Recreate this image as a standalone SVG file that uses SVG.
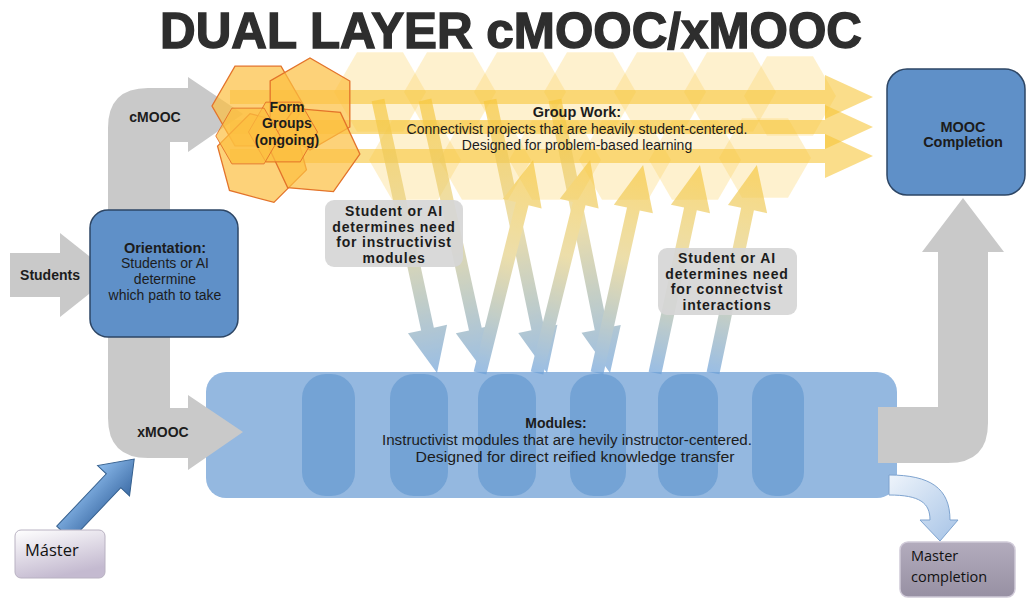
<svg xmlns="http://www.w3.org/2000/svg" width="1027" height="599" viewBox="0 0 1027 599">
<style>
.t{font-family:"Liberation Sans",Arial,sans-serif;fill:#1c1c1c;text-anchor:middle}
.b{font-weight:bold}
.gray{fill:#c9c9c9}
.bluebox{fill:#5f90c8;stroke:#2d4665;stroke-width:1.5}
.lbl{fill:#d6d6d6;fill-opacity:0.92}
.pale{fill:#fbd25c;fill-opacity:0.3}
.fg{fill:#fcbf40;fill-opacity:0.7;stroke:#e3732a;stroke-width:1.3}
.yarr{fill:#f7c435;fill-opacity:0.58}
.pill{fill:#6c9dd2;fill-opacity:0.8}
.cal{font-family:"Open Sans","Liberation Sans",sans-serif;fill:#111}
</style>
<defs>
<polygon id="hx" points="46,0 23,39.8 -23,39.8 -46,0 -23,-39.8 23,-39.8"/>
<linearGradient id="gd" x1="0" y1="0" x2="1" y2="0">
<stop offset="0" stop-color="#f8c83c"/><stop offset="0.45" stop-color="#e4cf83"/><stop offset="1" stop-color="#6a9fd8"/>
</linearGradient>
<linearGradient id="gu" x1="0" y1="0" x2="1" y2="0">
<stop offset="0" stop-color="#6a9fd8"/><stop offset="0.55" stop-color="#e4cf83"/><stop offset="1" stop-color="#f8c83c"/>
</linearGradient>
<linearGradient id="gm" x1="0" y1="0" x2="0" y2="1">
<stop offset="0" stop-color="#8cbbec"/><stop offset="1" stop-color="#3d6ca6"/>
</linearGradient>
<linearGradient id="gc" x1="0" y1="0" x2="1" y2="1">
<stop offset="0" stop-color="#eef4fb"/><stop offset="1" stop-color="#a6c3e6"/>
</linearGradient>
<linearGradient id="gms" x1="0" y1="0" x2="0.4" y2="1">
<stop offset="0" stop-color="#ffffff"/><stop offset="1" stop-color="#c4bad0"/>
</linearGradient>
<linearGradient id="gmc" x1="0" y1="0" x2="0" y2="1">
<stop offset="0" stop-color="#b3acbd"/><stop offset="1" stop-color="#9790a3"/>
</linearGradient>
</defs>

<text id="title" class="t b" x="511" y="48" font-size="50" style="fill:#2e2e2e;stroke:#2e2e2e;stroke-width:1.4" textLength="702" lengthAdjust="spacingAndGlyphs">DUAL LAYER cMOOC/xMOOC</text>

<g id="band">
<use href="#hx" class="pale" transform="translate(380,92)"/>
<use href="#hx" class="pale" transform="translate(450,92)"/>
<use href="#hx" class="pale" transform="translate(520,92)"/>
<use href="#hx" class="pale" transform="translate(590,92)"/>
<use href="#hx" class="pale" transform="translate(660,92)"/>
<use href="#hx" class="pale" transform="translate(730,92)"/>
<use href="#hx" class="pale" transform="translate(790,96)"/>
<use href="#hx" class="pale" transform="translate(415,160)"/>
<use href="#hx" class="pale" transform="translate(485,160)"/>
<use href="#hx" class="pale" transform="translate(555,160)"/>
<use href="#hx" class="pale" transform="translate(625,160)"/>
<use href="#hx" class="pale" transform="translate(695,160)"/>
<use href="#hx" class="pale" transform="translate(765,158)"/>
</g>

<g id="modules">
<rect x="206" y="372" width="691" height="126" rx="20" fill="#94b8e0"/>
<rect class="pill" x="302" y="374" width="53" height="122" rx="24"/>
<rect class="pill" x="390" y="374" width="58" height="122" rx="24"/>
<rect class="pill" x="478" y="374" width="58" height="122" rx="24"/>
<rect class="pill" x="570" y="374" width="56" height="122" rx="24"/>
<rect class="pill" x="658" y="374" width="60" height="122" rx="24"/>
<rect class="pill" x="752" y="374" width="52" height="122" rx="24"/>
<text class="t b" x="556" y="428" font-size="14">Modules:</text>
<text class="t" x="567" y="445" font-size="14" textLength="370" lengthAdjust="spacingAndGlyphs">Instructivist modules that are hevily instructor-centered.</text>
<text class="t" x="575" y="462" font-size="14" textLength="319" lengthAdjust="spacingAndGlyphs">Designed for direct reified knowledge transfer</text>
</g>

<g id="connectors">
<path class="gray" d="M243,114 L188,77 L188,88 L148,88 Q108,88 108,128 L108,418 Q108,458 148,458 L188,458 L188,470 L243,432 L188,395 L188,408 L170,408 L170,142 L188,142 L188,152 Z"/>
<polygon class="gray" points="10,253 60,253 60,233 113,275 60,317 60,297 10,297"/>
<path class="gray" d="M963,198 L1004,252 L988,252 L988,423 Q988,463 948,463 L878,463 L878,407 L938,407 L938,252 L922,252 Z"/>
<polygon class="yarr" points="230,90 825,90 825,75 873,97 825,119 825,104 230,104"/>
<polygon class="yarr" points="230,120 825,120 825,105 873,127 825,149 825,134 230,134"/>
<polygon class="yarr" points="230,149 825,149 825,134 873,156 825,178 825,163 230,163"/>
<g opacity="0.68">
<polygon fill="url(#gd)" transform="translate(378,100) rotate(77.8)" points="0,-6.5 234.3,-6.5 234.3,-20 279.3,0 234.3,20 234.3,6.5 0,6.5"/>
<polygon fill="url(#gd)" transform="translate(425,100) rotate(77.6)" points="0,-6.5 234.5,-6.5 234.5,-20 279.5,0 234.5,20 234.5,6.5 0,6.5"/>
<polygon fill="url(#gd)" transform="translate(490,100) rotate(78.2)" points="0,-6.5 233.9,-6.5 233.9,-20 278.9,0 233.9,20 233.9,6.5 0,6.5"/>
<polygon fill="url(#gd)" transform="translate(555,100) rotate(78.6)" points="0,-6.5 233.5,-6.5 233.5,-20 278.5,0 233.5,20 233.5,6.5 0,6.5"/>
<polygon fill="url(#gu)" transform="translate(480,373) rotate(-76)" points="0,-6.5 174.5,-6.5 174.5,-20 219.5,0 174.5,20 174.5,6.5 0,6.5"/>
<polygon fill="url(#gu)" transform="translate(537,373) rotate(-76)" points="0,-6.5 174.5,-6.5 174.5,-20 219.5,0 174.5,20 174.5,6.5 0,6.5"/>
<polygon fill="url(#gu)" transform="translate(597,373) rotate(-77.5)" points="0,-6.5 168,-6.5 168,-20 213,0 168,20 168,6.5 0,6.5"/>
<polygon fill="url(#gu)" transform="translate(655,373) rotate(-77.8)" points="0,-6.5 167.8,-6.5 167.8,-20 212.8,0 167.8,20 167.8,6.5 0,6.5"/>
<polygon fill="url(#gu)" transform="translate(713,373) rotate(-78.1)" points="0,-6.5 167.6,-6.5 167.6,-20 212.6,0 167.6,20 167.6,6.5 0,6.5"/>
</g>
<polygon fill="url(#gm)" stroke="#35608f" stroke-width="1" transform="translate(64,533) rotate(-46.5)" points="0,-10 72,-10 72,-22 102,0 72,22 72,10 0,10"/>
<path fill="url(#gc)" stroke="#7ea3cf" stroke-width="1" d="M889,475 C930,475 950,488 950,520 L958,520 L940,541 L920,520 L930,520 C930,503 920,495 889,495 Z"/>
<text class="t b" x="50" y="280" font-size="14">Students</text>
<text class="t b" x="155" y="122" font-size="14">cMOOC</text>
<text class="t b" x="163" y="437" font-size="14">xMOOC</text>
</g>

<g id="orientation">
<rect class="bluebox" x="90" y="210" width="148" height="127" rx="18"/>
<text class="t b" x="165" y="253" font-size="14.5">Orientation:</text>
<text class="t" x="165" y="268" font-size="14">Students or AI</text>
<text class="t" x="165" y="284" font-size="14">determine</text>
<text class="t" x="165" y="300" font-size="14">which path to take</text>
</g>

<g id="form-groups">
<use href="#hx" class="fg" transform="translate(258,106)"/>
<use href="#hx" class="fg" transform="translate(310,104) rotate(30)"/>
<use href="#hx" class="fg" transform="translate(262,158) rotate(15)"/>
<use href="#hx" class="fg" transform="translate(314,150) rotate(5)"/>
<use href="#hx" class="fg" transform="translate(283,132) scale(0.75)"/>
<use href="#hx" class="fg" transform="translate(248,136) scale(0.7)"/>
<text class="t b" x="287" y="112" font-size="14">Form</text>
<text class="t b" x="287" y="128" font-size="14">Groups</text>
<text class="t b" x="287" y="145" font-size="14">(ongoing)</text>
</g>

<g id="group-work">
<text class="t b" x="577" y="117" font-size="14.5">Group Work:</text>
<text class="t" x="577" y="134" font-size="14">Connectivist projects that are heavily student-centered.</text>
<text class="t" x="577" y="150" font-size="14">Designed for problem-based learning</text>
</g>

<g id="label-instructivist">
<rect class="lbl" x="325" y="200" width="138" height="67" rx="9"/>
<text class="t b" x="394" y="216" font-size="14" letter-spacing="0.8">Student or AI</text>
<text class="t b" x="394" y="232" font-size="14" letter-spacing="0.8">determines need</text>
<text class="t b" x="394" y="247" font-size="14" letter-spacing="0.8">for instructivist</text>
<text class="t b" x="394" y="263" font-size="14" letter-spacing="0.8">modules</text>
</g>

<g id="label-connectivist">
<rect class="lbl" x="658" y="248" width="139" height="67" rx="9"/>
<text class="t b" x="727" y="263" font-size="14" letter-spacing="0.8">Student or AI</text>
<text class="t b" x="727" y="279" font-size="14" letter-spacing="0.8">determines need</text>
<text class="t b" x="727" y="294" font-size="14" letter-spacing="0.8">for connectvist</text>
<text class="t b" x="727" y="310" font-size="14" letter-spacing="0.8">interactions</text>
</g>

<g id="mooc-completion">
<rect class="bluebox" x="887" y="69" width="138" height="126" rx="20"/>
<text class="t b" x="963" y="132" font-size="14.5">MOOC</text>
<text class="t b" x="963" y="147" font-size="14.5">Completion</text>
</g>

<g id="master">
<rect x="15" y="530" width="90" height="48" rx="6" fill="url(#gms)" stroke="#b9b2c2" stroke-width="1"/>
<text class="cal" x="25" y="556" font-size="16.5">Máster</text>
</g>

<g id="master-completion">
<rect x="900" y="542" width="115" height="55" rx="8" fill="url(#gmc)" stroke="#d0cad8" stroke-width="1.5"/>
<text class="cal" x="911" y="561" font-size="14.5">Master</text>
<text class="cal" x="911" y="582" font-size="14.5">completion</text>
</g>
</svg>
